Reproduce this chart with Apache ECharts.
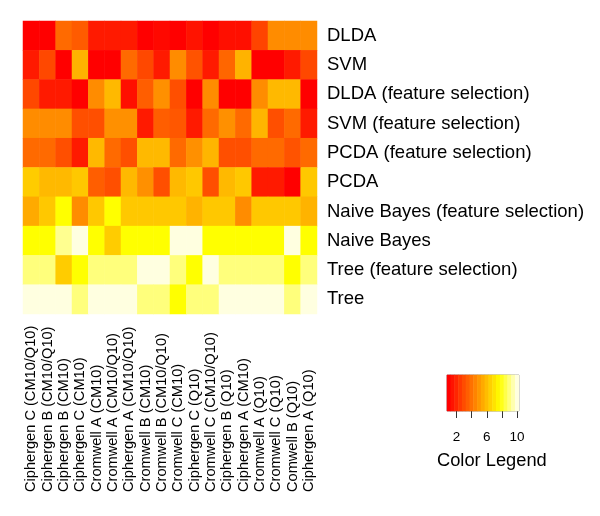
<!DOCTYPE html>
<html>
<head>
<meta charset="utf-8">
<script src="https://cdn.jsdelivr.net/npm/echarts@6/dist/echarts.min.js"></script>
<style>html,body{margin:0;padding:0;background:#fff}#c{width:600px;height:516px}</style>
</head>
<body>
<div id="c"></div>
<script>
const rowLabels = ['DLDA','SVM','DLDA (feature selection)','SVM (feature selection)','PCDA (feature selection)','PCDA','Naive Bayes (feature selection)','Naive Bayes','Tree (feature selection)','Tree'];
const colLabels = ['Ciphergen C (CM10/Q10)','Ciphergen B (CM10/Q10)','Ciphergen B (CM10)','Ciphergen C (CM10)','Cromwell A (CM10)','Cromwell A (CM10/Q10)','Ciphergen A (CM10/Q10)','Cromwell B (CM10)','Cromwell B (CM10/Q10)','Cromwell C (CM10)','Ciphergen C (Q10)','Cromwell C (CM10/Q10)','Ciphergen B (Q10)','Ciphergen A (CM10)','Cromwell A (Q10)','Cromwell C (Q10)','Comwell B (Q10)','Ciphergen A (Q10)'];
const rowDLDA    = [1,1,3.8,3.4,1.7,1.7,1.7,1,1.2,1,1.5,1,1.4,1.4,2.8,4.7,4.7,4.7];
const rowSVM     = [1.7,2.9,1,5.7,1,1,3.8,2.9,1.7,4.7,3.2,1.7,3.7,5.75,1,1,1.7,2.9];
const rowDLDAfs  = [2.9,1.7,1.7,1,4.7,5.9,1.4,3.5,4.8,3.1,1,4.7,1,1,4.7,5.9,5.9,1];
const rowSVMfs   = [4.7,4.7,4.7,3.1,3.1,4.8,4.8,1.7,3.5,3.3,1.7,3.8,4.8,3.8,5.8,3.1,3.8,1.7];
const rowPCDAfs  = [3.8,3.8,3.1,1.7,5.9,3.8,3.1,5.9,5.9,3.8,4.8,5.8,3.1,3.1,3.8,3.8,3.2,3.8];
const rowPCDA    = [6.4,5.9,5.9,6.3,3.5,3.1,5.9,4.8,3.1,5.9,6.3,3.1,5.9,6.3,1.7,1.7,1,6.3];
const rowNBfs    = [5.5,6.3,7.75,4.7,6.3,7.75,6.3,6.3,6.3,6.3,5.75,6.3,6.3,4.7,6.3,6.3,6.3,5.75];
const rowNB      = [7.75,7.75,9.2,10,7.75,6.4,7.75,7.75,7.75,10,10,7.75,7.75,7.75,7.75,7.75,10,7.75];
const rowTreefs  = [9,9,6.4,7.75,9,9,9,10,10,9,7.75,10,9,9,9,9,7.75,9];
const rowTree    = [10,10,10,9,10,10,10,9,9,7.75,9,9,10,10,10,10,9,10];
const legendSteps = [1,1.5,2,2.5,3,3.5,4,4.5,5,5.5,6,6.5,7,7.5,8,8.5,9,9.5,10];
const legendTicks = [2,4,6,8,10];
const legendLabels = [2,6,10];

const rows = [rowDLDA,rowSVM,rowDLDAfs,rowSVMfs,rowPCDAfs,rowPCDA,rowNBfs,rowNB,rowTreefs,rowTree];
const heatData = [];
rows.forEach((r, ri) => r.forEach((v, ci) => heatData.push([ci, ri, v])));
const legendData = legendSteps.map((v, i) => [i, 0, v]);

const FONT = 'Liberation Sans, Arial, sans-serif';
const chart = echarts.init(document.getElementById('c'), null, {renderer: 'canvas'});
chart.setOption({
  animation: false,
  backgroundColor: '#fff',
  textStyle: {fontFamily: FONT, color: '#000'},
  title: {
    text: 'Color Legend', left: 432, top: 447,
    textStyle: {fontFamily: FONT, fontSize: 18.3, fontWeight: 'normal', color: '#000'}
  },
  grid: [
    {left: 23, top: 21, width: 294, height: 293},
    {left: 447, top: 375, width: 72, height: 36, show: true, borderColor: '#999', borderWidth: 1, backgroundColor: 'transparent'}
  ],
  xAxis: [
    {
      type: 'category', gridIndex: 0, data: colLabels, position: 'bottom',
      axisLine: {show: false}, axisTick: {show: false}, splitLine: {show: false},
      axisLabel: {rotate: 90, align: 'left', margin: 178, interval: 0, fontSize: 14.6, fontFamily: FONT, color: '#000'}
    },
    {
      type: 'category', gridIndex: 1, data: legendSteps.map(String),
      axisLine: {show: false},
      axisTick: {show: true, alignWithLabel: true, length: 7, lineStyle: {color: '#333', width: 1},
        interval: (i, v) => legendTicks.includes(Number(v))},
      axisLabel: {margin: 19, fontSize: 13.5, fontFamily: FONT, color: '#000',
        interval: (i, v) => legendLabels.includes(Number(v))}
    }
  ],
  yAxis: [
    {
      type: 'category', gridIndex: 0, data: rowLabels, position: 'right', inverse: true,
      axisLine: {show: false}, axisTick: {show: false}, splitLine: {show: false},
      axisLabel: {margin: 10, align: 'left', fontSize: 18.5, fontFamily: FONT, color: '#000', interval: 0}
    },
    {
      type: 'category', gridIndex: 1, data: ['c'], show: false
    }
  ],
  visualMap: {
    type: 'continuous', show: false, min: 1, max: 10, seriesIndex: [0, 1],
    inRange: {color: ['#FF0000', '#FF5500', '#FFAA00', '#FFFF00', '#FFFFE0']}
  },
  series: [
    {
      type: 'heatmap', xAxisIndex: 0, yAxisIndex: 0, data: heatData,
      itemStyle: {borderWidth: 0}, emphasis: {disabled: true}, label: {show: false}
    },
    {
      type: 'heatmap', xAxisIndex: 1, yAxisIndex: 1, data: legendData,
      itemStyle: {borderWidth: 0}, emphasis: {disabled: true}, label: {show: false}
    }
  ]
});
</script>
</body>
</html>
